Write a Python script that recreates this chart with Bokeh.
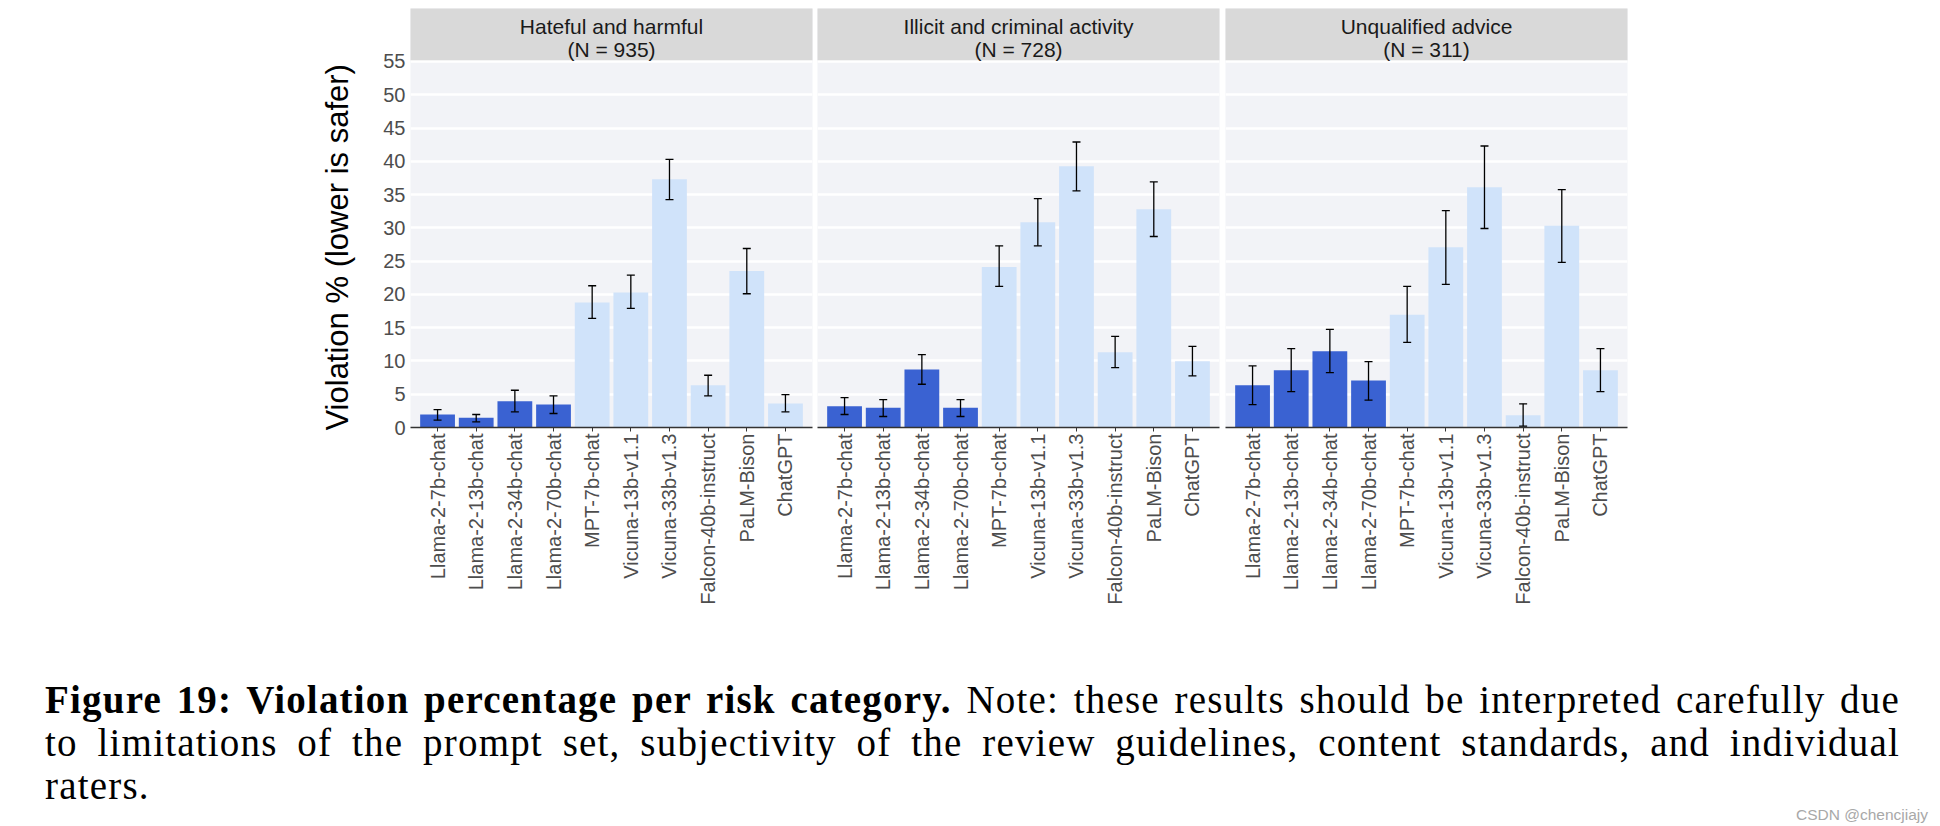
import math
from bokeh.plotting import figure
from bokeh.models import (ColumnDataSource, FactorRange, Range1d, FixedTicker,
                          Whisker, TeeHead, Div, Title)
from bokeh.layouts import row, column
from bokeh.core.properties import value
from bokeh.embed import file_html
from bokeh.resources import INLINE

# ---------------- data ----------------
models = ["Llama-2-7b-chat", "Llama-2-13b-chat", "Llama-2-34b-chat", "Llama-2-70b-chat",
          "MPT-7b-chat", "Vicuna-13b-v1.1", "Vicuna-33b-v1.3", "Falcon-40b-instruct",
          "PaLM-Bison", "ChatGPT"]
categories = ["Hateful and harmful", "Illicit and criminal activity", "Unqualified advice"]
n_prompts = [935, 728, 311]

hateful = [1.95, 1.45, 3.95, 3.45, 18.8, 20.3, 37.3, 6.35, 23.5, 3.6]
hateful_lo = [1.1, 0.85, 2.35, 2.1, 16.4, 17.9, 34.25, 4.75, 20.1, 2.35]
hateful_hi = [2.7, 1.95, 5.6, 4.75, 21.3, 22.9, 40.3, 7.85, 26.9, 4.95]

illicit = [3.2, 2.95, 8.7, 2.95, 24.1, 30.85, 39.25, 11.3, 32.8, 9.95]
illicit_lo = [1.95, 1.65, 6.5, 1.65, 21.2, 27.3, 35.55, 9.0, 28.7, 7.75]
illicit_hi = [4.5, 4.2, 10.95, 4.2, 27.3, 34.4, 42.9, 13.7, 36.9, 12.2]

advice = [6.35, 8.6, 11.45, 7.05, 16.95, 27.1, 36.1, 1.85, 30.3, 8.6]
advice_lo = [3.45, 5.4, 8.25, 4.1, 12.8, 21.5, 29.9, 0.2, 24.8, 5.4]
advice_hi = [9.25, 11.85, 14.75, 9.9, 21.2, 32.6, 42.3, 3.55, 35.75, 11.85]

y_ticks = [0, 5, 10, 15, 20, 25, 30, 35, 40, 45, 50, 55]
y_title = "Violation % (lower is safer)"

caption_bold = "Figure 19: Violation percentage per risk category."
caption_line1 = " Note: these results should be interpreted carefully due"
caption_line2 = ("to limitations of the prompt set, subjectivity of the review guidelines, "
                 "content standards, and individual")
caption_line3 = "raters."
watermark = "CSDN @chencjiajy"

# ---------------- style ----------------
DARK = "#3a62d2"
LIGHT = "#d0e3fa"
PANEL_BG = "#f2f3f7"
STRIP_BG = "#d9d9d9"
SANS = "Liberation Sans"

series = [(hateful, hateful_lo, hateful_hi),
          (illicit, illicit_lo, illicit_hi),
          (advice, advice_lo, advice_hi)]

Y_END = 62.96
STRIP_BOTTOM = 55.2
borders = [(410, 2), (3, 3), (3, 5)]

figs = []
for i, (cat, n, (vals, lo, hi)) in enumerate(zip(categories, n_prompts, series)):
    bl, br = borders[i]
    colors = [DARK if m.startswith("Llama") else LIGHT for m in models]
    src = ColumnDataSource(dict(model=models, v=vals, lo=lo, hi=hi, color=colors))

    p = figure(x_range=FactorRange(factors=models, range_padding=0.2,
                                   range_padding_units="absolute"),
               y_range=Range1d(0, Y_END),
               frame_width=402, frame_height=419,
               min_border_left=bl, min_border_right=br,
               min_border_top=8, min_border_bottom=251,
               output_backend="svg", toolbar_location=None,
               y_axis_location="left" if i == 0 else None)
    p.background_fill_color = PANEL_BG
    p.border_fill_color = "white"
    p.outline_line_color = None

    p.xgrid.visible = False
    p.ygrid.ticker = FixedTicker(ticks=y_ticks)
    p.ygrid.grid_line_color = "white"
    p.ygrid.grid_line_width = 2.5

    p.vbar(x="model", top="v", width=0.9, source=src, fill_color="color",
           line_color=None)

    wk = Whisker(source=src, base="model", upper="hi", lower="lo",
                 line_color="black", line_width=1.3, level="overlay",
                 upper_head=TeeHead(size=8, line_color="black", line_width=1.3),
                 lower_head=TeeHead(size=8, line_color="black", line_width=1.3))
    p.add_layout(wk)

    # facet strip (inside the frame, above the data area)
    p.quad(left=[-1], right=[11], bottom=[STRIP_BOTTOM], top=[Y_END + 1],
           fill_color=STRIP_BG, line_color=None)
    p.text(x=[5.0], y=[60.3], text=[cat], text_align="center",
           text_baseline="alphabetic", text_font=value(SANS),
           text_font_size="21px", text_color="#1a1a1a")
    p.text(x=[5.0], y=[56.8], text=["(N = %d)" % n], text_align="center",
           text_baseline="alphabetic", text_font=value(SANS),
           text_font_size="21px", text_color="#1a1a1a")

    xa = p.xaxis[0]
    xa.axis_line_color = "#333333"
    xa.axis_line_width = 1.3
    xa.major_tick_line_color = "#333333"
    xa.major_tick_out = 4
    xa.major_tick_in = 0
    xa.minor_tick_line_color = None
    xa.major_label_orientation = math.pi / 2
    xa.major_label_standoff = 2
    xa.major_label_text_font = SANS
    xa.major_label_text_font_size = "20px"
    xa.major_label_text_color = "#4d4d4d"

    if i == 0:
        ya = p.yaxis[0]
        ya.ticker = FixedTicker(ticks=y_ticks)
        ya.axis_line_color = None
        ya.major_tick_line_color = None
        ya.minor_tick_line_color = None
        ya.major_tick_out = 0
        ya.major_tick_in = 0
        ya.major_label_standoff = 5
        ya.major_label_text_font = SANS
        ya.major_label_text_font_size = "20px"
        ya.major_label_text_color = "#4d4d4d"
        # y title: starts at the bottom of the data area and reads upward
        p.add_layout(Title(text=y_title, align="left", offset=-3, standoff=52,
                           text_font=SANS, text_font_size="31px",
                           text_font_style="normal", text_color="#000000"), "left")
    figs.append(p)

just = "text-align:justify;text-align-last:justify;"
html = (
    "<div style=\"width:1883px;\">"
    "<div style=\"font-family:'Liberation Serif',serif;font-size:39px;line-height:43px;"
    "letter-spacing:1.2px;color:#000;width:1855px;\">"
    f"<div style=\"{just}\"><b>{caption_bold}</b>{caption_line1}</div>"
    f"<div style=\"{just}\">{caption_line2}</div>"
    f"<div>{caption_line3}</div>"
    "</div>"
    "<div style=\"font-family:'Liberation Sans',sans-serif;font-size:15.5px;line-height:16px;"
    f"color:#a8a8a8;text-align:right;\">{watermark}</div>"
    "</div>"
)
cap = Div(text=html, width=1883, margin=(0, 0, 0, 45))

layout = column(row(*figs), cap)
open("out.html", "w").write(file_html(layout, INLINE))
